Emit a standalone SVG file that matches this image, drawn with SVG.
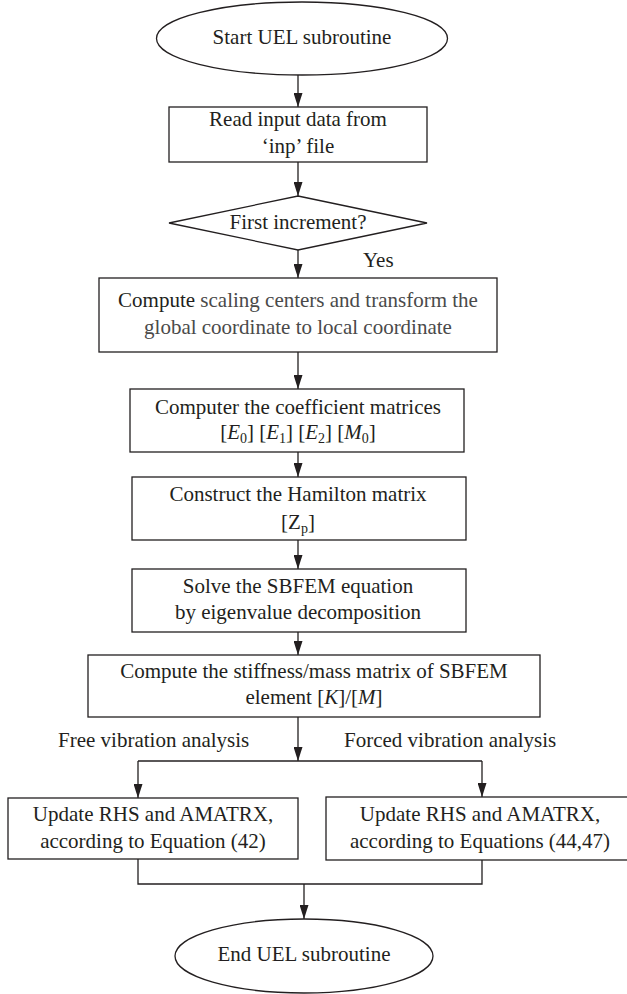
<svg xmlns="http://www.w3.org/2000/svg" width="627" height="994" viewBox="0 0 627 994">
<defs>
<marker id="arr" markerUnits="userSpaceOnUse" markerWidth="14" markerHeight="9" refX="14" refY="4.5" orient="auto">
<path d="M0,0 L14,4.5 L0,9 z" fill="#231f20"/>
</marker>
</defs>
<style>
.n{fill:#fff;stroke:#231f20;stroke-width:1.3}
.t{font-family:"Liberation Serif","Times New Roman",serif;font-size:21px;fill:#231f20;text-anchor:middle}
.l{font-family:"Liberation Serif","Times New Roman",serif;font-size:21px;fill:#231f20}
.g{fill:#4a4a4a}
.i{font-style:italic}
.c{fill:none;stroke:#231f20;stroke-width:1.3}
.a{fill:none;stroke:#231f20;stroke-width:1.3;marker-end:url(#arr)}
</style>
<rect width="627" height="994" fill="#fff"/>
<g id="connectors">
<line class="a" x1="298" y1="75" x2="298" y2="107"/>
<line class="a" x1="298" y1="162" x2="298" y2="196"/>
<line class="a" x1="298" y1="250" x2="298" y2="278"/>
<line class="a" x1="298" y1="352" x2="298" y2="389"/>
<line class="a" x1="298" y1="452" x2="298" y2="477"/>
<line class="a" x1="298" y1="540" x2="298" y2="569"/>
<line class="a" x1="298" y1="632" x2="298" y2="655"/>
<line class="a" x1="298" y1="717" x2="298" y2="761"/>
<line class="c" x1="138" y1="761" x2="482" y2="761"/>
<line class="a" x1="138" y1="761" x2="138" y2="798"/>
<line class="a" x1="482" y1="761" x2="482" y2="797"/>
<polyline class="c" points="138,859 138,884 482,884 482,860"/>
<line class="a" x1="304" y1="884" x2="304" y2="919"/>
<text class="l" x="363" y="267">Yes</text>
<text class="l" x="58" y="747">Free vibration analysis</text>
<text class="l" x="344" y="747">Forced vibration analysis</text>
</g>
<g id="start">
<ellipse class="n" cx="302" cy="38.5" rx="145.5" ry="36.5"/>
<text class="t" x="302" y="44">Start UEL subroutine</text>
</g>
<g id="read">
<rect class="n" x="169" y="107" width="258" height="55"/>
<text class="t" x="298" y="126">Read input data from</text>
<text class="t" x="298" y="153">‘inp’ file</text>
</g>
<g id="decision">
<polygon class="n" points="298,196 427,223 298,250 169,223"/>
<text class="t" x="298" y="229">First increment?</text>
</g>
<g id="scaling">
<rect class="n" x="99" y="278" width="398" height="74"/>
<text class="t" x="298" y="307">Compute<tspan class="g"> scaling centers and transform the</tspan></text>
<text class="t g" x="298" y="334">global coordinate to local coordinate</text>
</g>
<g id="coeff">
<rect class="n" x="130" y="389" width="334" height="63"/>
<text class="t" x="298" y="414">Computer the coefficient matrices</text>
<text class="t" x="298" y="439">[<tspan class="i">E</tspan><tspan font-size="14" dy="4">0</tspan><tspan dy="-4">] [</tspan><tspan class="i">E</tspan><tspan font-size="14" dy="4">1</tspan><tspan dy="-4">] [</tspan><tspan class="i">E</tspan><tspan font-size="14" dy="4">2</tspan><tspan dy="-4">] [</tspan><tspan class="i">M</tspan><tspan font-size="14" dy="4">0</tspan><tspan dy="-4">]</tspan></text>
</g>
<g id="hamilton">
<rect class="n" x="132" y="477" width="334" height="63"/>
<text class="t" x="298" y="501">Construct the Hamilton matrix</text>
<text class="t" x="298" y="529">[Z<tspan font-size="14" dy="4">p</tspan><tspan dy="-4">]</tspan></text>
</g>
<g id="solve">
<rect class="n" x="132" y="569" width="334" height="63"/>
<text class="t" x="298" y="593">Solve the SBFEM equation</text>
<text class="t" x="298" y="619">by eigenvalue decomposition</text>
</g>
<g id="stiffness">
<rect class="n" x="88" y="655" width="452" height="62"/>
<text class="t" x="314" y="678">Compute the stiffness/mass matrix of SBFEM</text>
<text class="t" x="314" y="704">element [<tspan class="i">K</tspan>]/[<tspan class="i">M</tspan>]</text>
</g>
<g id="free">
<rect class="n" x="8" y="798" width="290" height="61"/>
<text class="t" x="153" y="821">Update RHS and AMATRX,</text>
<text class="t" x="153" y="848">according to Equation (42)</text>
</g>
<g id="forced">
<rect class="n" x="326" y="797" width="312" height="63"/>
<text class="t" x="480" y="821">Update RHS and AMATRX,</text>
<text class="t" x="480" y="848">according to Equations (44,47)</text>
</g>
<g id="end">
<ellipse class="n" cx="304" cy="956" rx="129" ry="37"/>
<text class="t" x="304" y="961">End UEL subroutine</text>
</g>
</svg>
